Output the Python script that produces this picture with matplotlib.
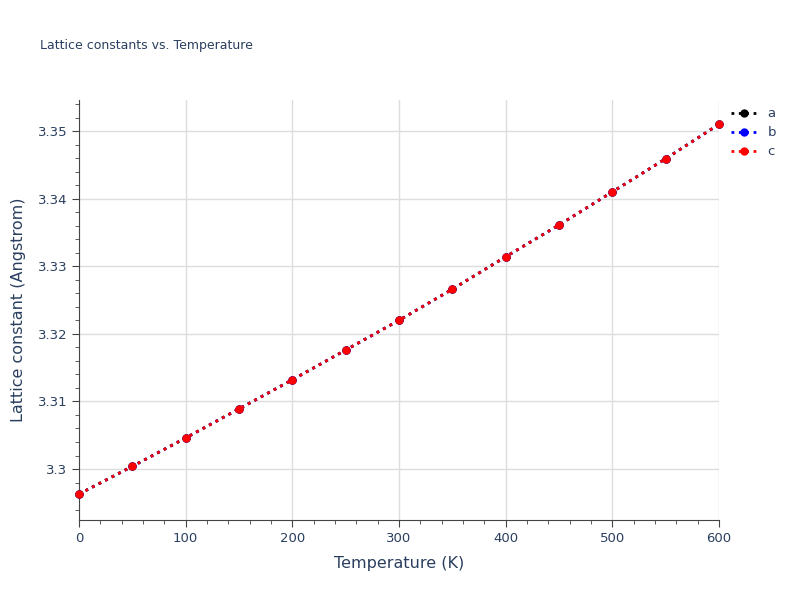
import matplotlib
matplotlib.use("Agg")
import matplotlib.pyplot as plt
from matplotlib.ticker import MultipleLocator

temperature = [0, 50, 100, 150, 200, 250, 300, 350, 400, 450, 500, 550, 600]
lat_a = [3.2963, 3.3004, 3.3046, 3.3089, 3.3132, 3.3176, 3.3220, 3.3266, 3.3314, 3.3361, 3.3410, 3.3459, 3.3510]
lat_b = list(lat_a)
lat_c = list(lat_a)

fig = plt.figure(figsize=(8, 6), dpi=100)
ax = fig.add_axes([79 / 800, 80 / 600, 640 / 800, 420 / 600])

for vals, color, name in [(lat_a, "black", "a"), (lat_b, "blue", "b"), (lat_c, "red", "c")]:
    ax.plot(temperature, vals, linestyle=":", linewidth=2, color=color, marker="o",
            markersize=5, label=name, clip_on=False, zorder=3)

ax.set_xlim(0, 600)
ax.set_ylim(3.29246, 3.35459)
ax.xaxis.set_major_locator(MultipleLocator(100))
ax.xaxis.set_minor_locator(MultipleLocator(20))
ax.yaxis.set_minor_locator(MultipleLocator(0.002))
ax.set_yticks([3.30, 3.31, 3.32, 3.33, 3.34, 3.35])
ax.set_yticklabels(["3.3", "3.31", "3.32", "3.33", "3.34", "3.35"])
ax.grid(True, which="major", color="#dddddd", linewidth=1)
ax.set_axisbelow(True)
for s in ["top", "right"]:
    ax.spines[s].set_visible(False)
for s in ["left", "bottom"]:
    ax.spines[s].set_color("#444444")
ax.tick_params(which="both", colors="#444444", labelcolor="#2a3f5f", labelsize=9.5)
ax.tick_params(which="major", length=5)
ax.tick_params(which="minor", length=3)
ax.set_xlabel("Temperature (K)", fontsize=11.5, color="#2a3f5f", labelpad=8)
ax.set_ylabel("Lattice constant (Angstrom)", fontsize=11.5, color="#2a3f5f", labelpad=8)
fig.text(40 / 800, 1 - 46 / 600, "Lattice constants vs. Temperature", fontsize=9,
         color="#2a3f5f", va="center")
ax.legend(loc="upper left", bbox_to_anchor=(1.01, 0.995), frameon=False, fontsize=9.5,
          handlelength=2, labelcolor="#2a3f5f", borderaxespad=0, labelspacing=0.45)
fig.savefig("out.png", dpi=100)
